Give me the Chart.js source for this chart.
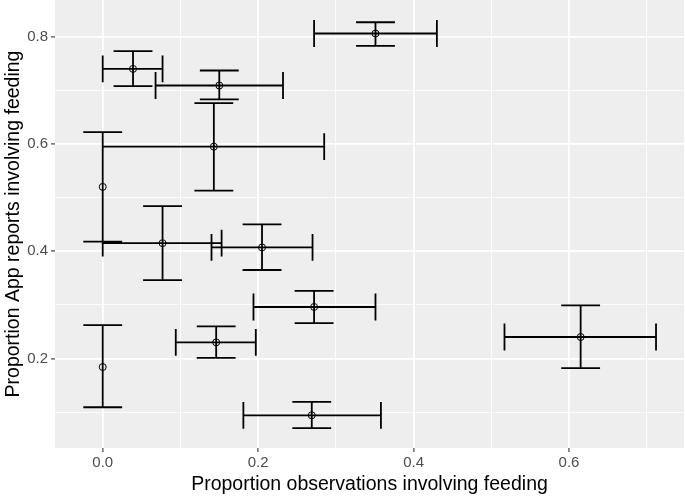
<!DOCTYPE html>
<html>
<head>
<meta charset="utf-8">
<script src="https://cdn.jsdelivr.net/npm/chart.js@4"></script>
<style>
  body { margin: 0; background: #ffffff; }
  #wrap { width: 685px; height: 496px; }
</style>
</head>
<body>
<div id="wrap"><canvas id="feedChart" width="685" height="496"></canvas></div>
<script>
// proportion of observations involving feeding (x) with its interval
const obsX  = [0.351, 0.039, 0.150, 0.143, 0.000, 0.077, 0.205, 0.272, 0.146, 0.000, 0.269, 0.615];
const obsLo = [0.272, 0.000, 0.068, 0.000, 0.000, 0.000, 0.140, 0.194, 0.094, 0.000, 0.181, 0.517];
const obsHi = [0.430, 0.077, 0.232, 0.285, 0.000, 0.153, 0.270, 0.351, 0.197, 0.000, 0.358, 0.712];
// proportion of App reports involving feeding (y) with its interval
const appY  = [0.806, 0.740, 0.709, 0.595, 0.520, 0.415, 0.407, 0.296, 0.230, 0.184, 0.094, 0.240];
const appLo = [0.783, 0.708, 0.683, 0.513, 0.418, 0.346, 0.365, 0.266, 0.201, 0.109, 0.070, 0.182];
const appHi = [0.827, 0.773, 0.737, 0.676, 0.622, 0.484, 0.450, 0.326, 0.260, 0.262, 0.119, 0.299];

const xTickLabels = ["0.0", "0.2", "0.4", "0.6"];
const yTickLabels = ["0.2", "0.4", "0.6", "0.8"];

const CAP = 0.05; // errorbar width, data units
const gap = { x: null, y: null };

// build the error bar segments, separated by gaps
const segs = [];
for (let i = 0; i < obsX.length; i++) {
  // vertical bar + caps
  segs.push({ x: obsX[i], y: appLo[i] }, { x: obsX[i], y: appHi[i] }, gap);
  segs.push({ x: obsX[i] - CAP / 2, y: appHi[i] }, { x: obsX[i] + CAP / 2, y: appHi[i] }, gap);
  segs.push({ x: obsX[i] - CAP / 2, y: appLo[i] }, { x: obsX[i] + CAP / 2, y: appLo[i] }, gap);
  // horizontal bar + caps
  if (obsHi[i] > obsLo[i]) {
    segs.push({ x: obsLo[i], y: appY[i] }, { x: obsHi[i], y: appY[i] }, gap);
    segs.push({ x: obsLo[i], y: appY[i] - CAP / 2 }, { x: obsLo[i], y: appY[i] + CAP / 2 }, gap);
    segs.push({ x: obsHi[i], y: appY[i] - CAP / 2 }, { x: obsHi[i], y: appY[i] + CAP / 2 }, gap);
  }
}
const pts = obsX.map((x, i) => ({ x: x, y: appY[i] }));

const panelBg = {
  id: "panelBg",
  beforeDraw(chart) {
    const a = chart.chartArea;
    const c = chart.ctx;
    c.save();
    c.fillStyle = "#EEEEEE";
    c.fillRect(a.left, a.top, a.right - a.left, a.bottom - a.top);
    c.restore();
  },
};

const isMajor = (v) => Math.round(v * 10) % 2 === 0;
const fmt = (v, list) => {
  const s = v.toFixed(1);
  return isMajor(v) && list.includes(s) ? s : "";
};

new Chart(document.getElementById("feedChart"), {
  type: "scatter",
  data: {
    datasets: [
      {
        label: "bars",
        data: segs,
        showLine: true,
        spanGaps: false,
        borderColor: "#000000",
        borderWidth: 1.8,
        pointRadius: 0,
        pointHoverRadius: 0,
        order: 2,
      },
      {
        label: "points",
        data: pts,
        pointStyle: "circle",
        pointRadius: 3.5,
        pointBorderWidth: 1,
        pointBorderColor: "#000000",
        pointBackgroundColor: "rgba(0,0,0,0)",
        order: 1,
      },
    ],
  },
  options: {
    responsive: false,
    animation: false,
    layout: { autoPadding: false, padding: { left: 0, right: 1, top: 0, bottom: 0 } },
    plugins: { legend: { display: false }, tooltip: { enabled: false } },
    scales: {
      x: {
        type: "linear",
        min: -0.0614,
        max: 0.748,
        afterFit(s) { s.height = 48; s.paddingLeft = 0; s.paddingRight = 0; },
        border: { display: false },
        grid: {
          color: "#FFFFFF",
          lineWidth: (ctx) => (isMajor(ctx.tick.value) ? 1.8 : 0.8),
          tickColor: (ctx) => (isMajor(ctx.tick.value) ? "#333333" : "rgba(0,0,0,0)"),
          tickLength: 4,
          tickWidth: 1.1,
        },
        ticks: {
          stepSize: 0.1,
          includeBounds: false,
          autoSkip: false,
          maxRotation: 0,
          padding: 2,
          color: "#4D4D4D",
          font: { family: "Liberation Sans, Arial, sans-serif", size: 15 },
          callback: (v) => fmt(v, xTickLabels),
        },
        title: {
          display: true,
          text: "Proportion observations involving feeding",
          color: "#000000",
          font: { family: "Liberation Sans, Arial, sans-serif", size: 19.5 },
          padding: { top: 0, bottom: 0 },
        },
      },
      y: {
        type: "linear",
        min: 0.033,
        max: 0.8685,
        afterFit(s) { s.width = 55; s.paddingTop = 0; s.paddingBottom = 0; },
        border: { display: false },
        grid: {
          color: "#FFFFFF",
          lineWidth: (ctx) => (isMajor(ctx.tick.value) ? 1.8 : 0.8),
          tickColor: (ctx) => (isMajor(ctx.tick.value) ? "#333333" : "rgba(0,0,0,0)"),
          tickLength: 4,
          tickWidth: 1.1,
        },
        ticks: {
          stepSize: 0.1,
          includeBounds: false,
          autoSkip: false,
          padding: 3,
          color: "#4D4D4D",
          font: { family: "Liberation Sans, Arial, sans-serif", size: 15 },
          callback: (v) => fmt(v, yTickLabels),
        },
        title: {
          display: true,
          text: "Proportion App reports involving feeding",
          color: "#000000",
          font: { family: "Liberation Sans, Arial, sans-serif", size: 19.5 },
          padding: { top: 1.5, bottom: 0 },
        },
      },
    },
  },
  plugins: [panelBg],
});
</script>
</body>
</html>
